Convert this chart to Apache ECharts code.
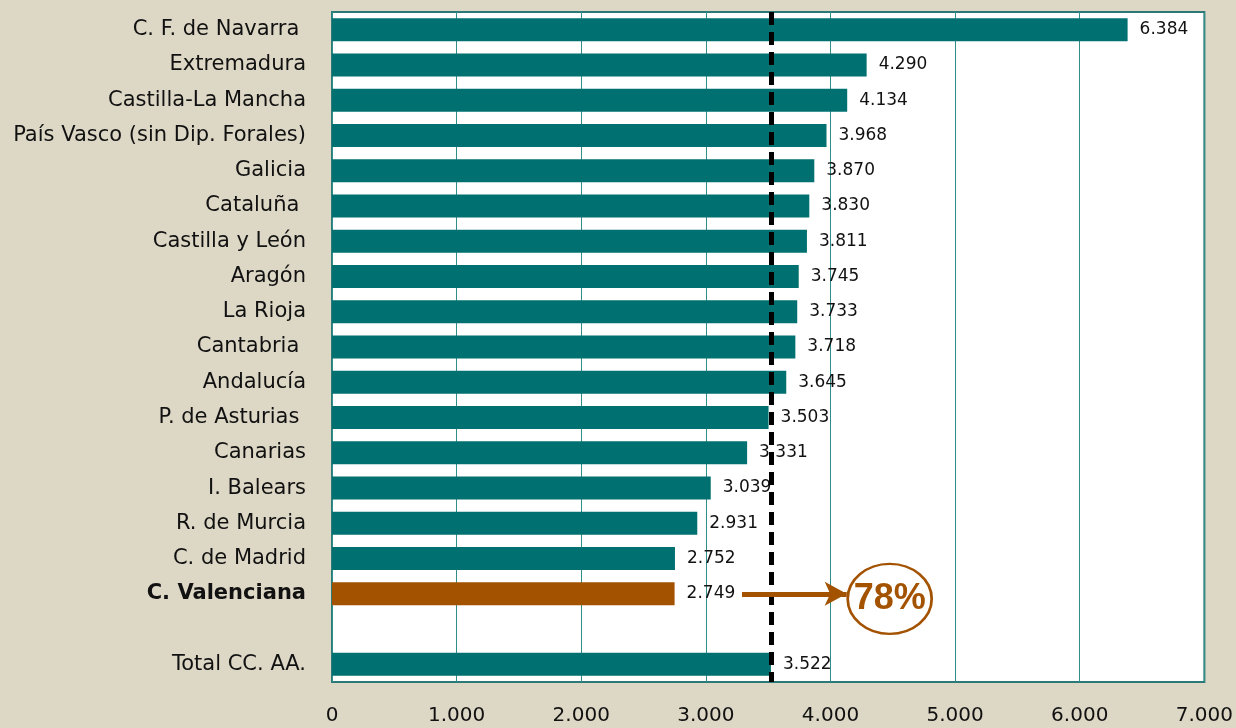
<!DOCTYPE html>
<html>
<head>
<meta charset="utf-8">
<script src="https://cdn.jsdelivr.net/npm/echarts@6/dist/echarts.min.js"></script>
<style>
  html, body { margin: 0; padding: 0; background: #ddd7c5; }
  #chart { width: 1236px; height: 728px; }
</style>
</head>
<body>
<div id="chart"></div>
<script>
const regions = [
  'C. F. de Navarra ', 'Extremadura', 'Castilla-La Mancha', 'País Vasco (sin Dip. Forales)',
  'Galicia', 'Cataluña ', 'Castilla y León', 'Aragón', 'La Rioja', 'Cantabria ',
  'Andalucía', 'P. de Asturias ', 'Canarias', 'I. Balears', 'R. de Murcia',
  'C. de Madrid', 'C. Valenciana', '', 'Total CC. AA.'
];
const gasto = [
  6384, 4290, 4134, 3968, 3870, 3830, 3811, 3745, 3733, 3718,
  3645, 3503, 3331, 3039, 2931, 2752, 2749, null, 3522
];
const highlight = 'C. Valenciana';
const mediaTotal = 3522;
const pctLabel = '78%';
// arrow from / to, and circle centre (x values)
const arrowFrom = 3290;
const arrowTo = 4130;
const circleX = 4475;

const teal = '#007170';
const orange = '#a35200';

function fmt(v) {
  return String(v).replace(/\B(?=(\d{3})+(?!\d))/g, '.');
}

const chart = echarts.init(document.getElementById('chart'));

chart.setOption({
  backgroundColor: '#ddd7c5',
  textStyle: { fontFamily: 'DejaVu Sans' },
  grid: {
    left: 332, right: 31, top: 12, bottom: 46,
    show: true, backgroundColor: '#fff', borderColor: '#2b7a78', borderWidth: 2
  },
  xAxis: {
    type: 'value', min: 0, max: 7000, interval: 1000,
    axisLine: { show: false },
    axisTick: { show: false },
    axisLabel: { color: '#111', fontSize: 20, margin: 24, formatter: fmt },
    splitLine: { lineStyle: { color: '#2f8d8a', width: 1 } }
  },
  yAxis: {
    type: 'category', inverse: true, data: regions,
    axisLine: { show: false },
    axisTick: { show: false },
    axisLabel: {
      color: '#111', fontSize: 21, margin: 26,
      formatter: v => v === highlight ? '{b|' + v + '}' : v,
      rich: { b: { fontWeight: 'bold', fontSize: 21, color: '#111' } }
    }
  },
  series: [{
    type: 'bar',
    barWidth: 23,
    data: gasto.map((v, i) => ({
      value: v,
      itemStyle: { color: regions[i] === highlight ? orange : teal }
    })),
    label: {
      show: true, position: 'right', distance: 12,
      color: '#111', fontSize: 17,
      formatter: p => p.value == null ? '' : fmt(p.value)
    },
    markLine: {
      silent: true, symbol: 'none',
      label: { show: false },
      lineStyle: { color: '#000', width: 5, type: [13, 7] },
      data: [{ xAxis: mediaTotal }]
    },
    markPoint: {
      silent: true,
      symbol: 'circle',
      symbolSize: [84, 70],
      symbolOffset: [0, 5],
      itemStyle: { color: 'rgba(0,0,0,0)', borderColor: orange, borderWidth: 2.5 },
      label: {
        show: true, position: 'inside', color: orange,
        fontFamily: 'Liberation Sans', fontSize: 36, fontWeight: 'bold', formatter: pctLabel
      },
      data: [{ coord: [circleX, highlight] }]
    },
    z: 2
  }, {
    type: 'line',
    data: [],
    markLine: {
      silent: true,
      symbol: ['none', 'arrow'],
      symbolSize: [18, 22],
      label: { show: false },
      lineStyle: { color: orange, width: 5, type: 'solid' },
      data: [[{ coord: [arrowFrom, highlight] }, { coord: [arrowTo, highlight] }]]
    }
  }]
});
</script>
</body>
</html>
